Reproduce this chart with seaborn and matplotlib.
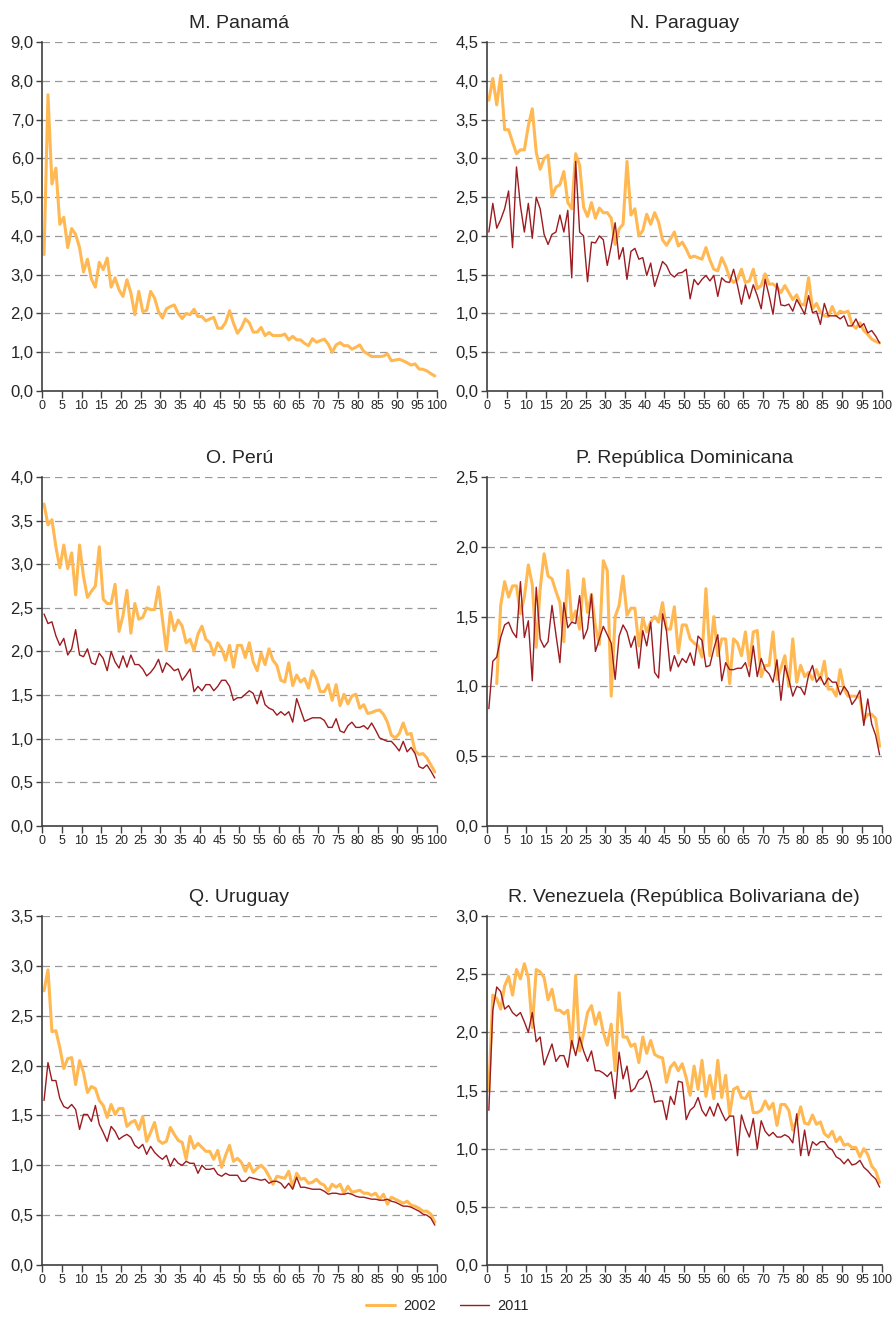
import numpy as np
import pandas as pd
import matplotlib.pyplot as plt
import seaborn as sns
from matplotlib.lines import Line2D
from matplotlib.ticker import FuncFormatter, MultipleLocator

percentiles = np.arange(1, 101)
years = ['2002', '2011']

panama_2002 = [3.52, 7.64, 5.34, 5.75, 4.30, 4.48, 3.70, 4.19, 4.04, 3.70,
               3.07, 3.40, 2.89, 2.68, 3.32, 3.13, 3.43, 2.68, 2.92, 2.61,
               2.44, 2.87, 2.53, 1.97, 2.57, 2.05, 2.08, 2.57, 2.40, 2.05,
               1.88, 2.12, 2.18, 2.22, 2.00, 1.87, 2.00, 1.97, 2.11, 1.92,
               1.92, 1.81, 1.86, 1.90, 1.62, 1.62, 1.77, 2.07, 1.75, 1.49,
               1.63, 1.86, 1.76, 1.52, 1.52, 1.64, 1.43, 1.51, 1.43, 1.43,
               1.43, 1.47, 1.32, 1.41, 1.32, 1.32, 1.23, 1.17, 1.35, 1.26,
               1.30, 1.34, 1.21, 1.00, 1.19, 1.25, 1.17, 1.17, 1.08, 1.13,
               1.19, 1.02, 0.96, 0.89, 0.89, 0.89, 0.90, 0.96, 0.78, 0.80,
               0.82, 0.78, 0.73, 0.67, 0.70, 0.57, 0.56, 0.52, 0.45, 0.39]

paraguay_2002 = [3.75, 4.03, 3.69, 4.07, 3.37, 3.37, 3.21, 3.06, 3.11, 3.11,
                 3.42, 3.64, 3.08, 2.86, 3.00, 3.04, 2.51, 2.63, 2.66, 2.83,
                 2.43, 2.35, 3.06, 2.91, 2.37, 2.25, 2.43, 2.23, 2.36, 2.30,
                 2.30, 2.23, 1.89, 2.09, 2.15, 2.96, 2.27, 2.35, 2.00, 2.07,
                 2.28, 2.15, 2.30, 2.18, 1.95, 1.88, 1.96, 2.05, 1.87, 1.92,
                 1.83, 1.72, 1.74, 1.72, 1.70, 1.85, 1.69, 1.57, 1.55, 1.72,
                 1.61, 1.46, 1.40, 1.44, 1.57, 1.40, 1.42, 1.57, 1.32, 1.36,
                 1.51, 1.38, 1.38, 1.34, 1.27, 1.36, 1.27, 1.18, 1.24, 1.12,
                 1.11, 1.46, 1.06, 1.13, 1.02, 0.97, 0.96, 1.09, 0.97, 1.03,
                 1.01, 1.03, 0.86, 0.81, 0.88, 0.78, 0.73, 0.67, 0.64, 0.62]
paraguay_2011 = [2.05, 2.42, 2.10, 2.21, 2.35, 2.58, 1.85, 2.89, 2.39, 2.05,
                 2.42, 1.97, 2.50, 2.35, 2.02, 1.89, 2.02, 2.05, 2.27, 2.05,
                 2.33, 1.46, 2.96, 2.05, 2.00, 1.41, 1.92, 1.91, 2.00, 1.95,
                 1.62, 1.87, 2.17, 1.70, 1.85, 1.44, 1.80, 1.84, 1.70, 1.72,
                 1.49, 1.65, 1.35, 1.51, 1.67, 1.62, 1.51, 1.47, 1.52, 1.53,
                 1.57, 1.19, 1.44, 1.37, 1.44, 1.49, 1.42, 1.49, 1.22, 1.46,
                 1.41, 1.40, 1.57, 1.36, 1.12, 1.37, 1.19, 1.37, 1.23, 1.06,
                 1.44, 1.23, 0.99, 1.39, 1.11, 1.10, 1.12, 1.03, 1.18, 1.09,
                 0.99, 1.23, 1.01, 1.03, 0.86, 1.13, 0.97, 0.97, 0.97, 0.93,
                 0.97, 0.84, 0.84, 0.93, 0.82, 0.87, 0.75, 0.78, 0.71, 0.62]

peru_2002 = [3.69, 3.45, 3.51, 3.20, 2.96, 3.22, 2.95, 3.13, 2.65, 3.22,
             2.86, 2.62, 2.69, 2.75, 3.20, 2.60, 2.55, 2.55, 2.77, 2.23,
             2.41, 2.70, 2.21, 2.55, 2.37, 2.39, 2.50, 2.48, 2.48, 2.74,
             2.37, 2.01, 2.45, 2.24, 2.36, 2.29, 2.10, 2.14, 2.01, 2.20,
             2.29, 2.14, 2.10, 1.96, 2.10, 2.03, 1.90, 2.07, 1.82, 2.07,
             2.07, 1.93, 2.10, 1.88, 1.78, 1.98, 1.85, 2.03, 1.90, 1.84,
             1.67, 1.65, 1.87, 1.61, 1.73, 1.65, 1.69, 1.58, 1.78, 1.69,
             1.54, 1.54, 1.62, 1.44, 1.62, 1.38, 1.51, 1.40, 1.49, 1.51,
             1.35, 1.39, 1.29, 1.30, 1.32, 1.33, 1.28, 1.19, 1.04, 1.01,
             1.06, 1.18, 1.05, 1.06, 0.86, 0.82, 0.83, 0.78, 0.70, 0.62]
peru_2011 = [2.43, 2.32, 2.34, 2.18, 2.07, 2.15, 1.96, 2.03, 2.25, 1.96,
             1.94, 2.03, 1.87, 1.85, 1.98, 1.92, 1.78, 2.00, 1.88, 1.81,
             1.95, 1.82, 1.96, 1.85, 1.85, 1.80, 1.72, 1.76, 1.82, 1.91,
             1.76, 1.87, 1.83, 1.78, 1.80, 1.67, 1.73, 1.80, 1.54, 1.60,
             1.55, 1.62, 1.62, 1.55, 1.60, 1.67, 1.67, 1.60, 1.44, 1.47,
             1.47, 1.51, 1.55, 1.52, 1.40, 1.55, 1.39, 1.35, 1.33, 1.27,
             1.31, 1.27, 1.31, 1.19, 1.46, 1.33, 1.20, 1.22, 1.24, 1.24,
             1.24, 1.21, 1.13, 1.13, 1.23, 1.09, 1.07, 1.15, 1.19, 1.13,
             1.13, 1.15, 1.11, 1.18, 1.10, 1.01, 0.99, 0.97, 0.97, 0.92,
             0.86, 0.97, 0.85, 0.90, 0.83, 0.68, 0.66, 0.70, 0.63, 0.55]

dominicana_2002 = [np.nan, np.nan, 1.02, 1.58, 1.75, 1.64, 1.72, 1.72, 1.52, 1.64,
                   1.87, 1.73, 1.28, 1.70, 1.95, 1.79, 1.77, 1.68, 1.60, 1.32,
                   1.83, 1.47, 1.54, 1.41, 1.77, 1.53, 1.66, 1.43, 1.30, 1.90,
                   1.83, 0.93, 1.50, 1.58, 1.79, 1.51, 1.56, 1.56, 1.29, 1.49,
                   1.39, 1.46, 1.50, 1.46, 1.60, 1.41, 1.41, 1.57, 1.24, 1.44,
                   1.44, 1.34, 1.31, 1.29, 1.21, 1.70, 1.22, 1.50, 1.22, 1.34,
                   1.34, 1.02, 1.34, 1.31, 1.22, 1.39, 1.15, 1.39, 1.40, 1.07,
                   1.15, 1.15, 1.39, 1.05, 1.13, 1.22, 1.00, 1.34, 1.03, 1.15,
                   1.07, 1.10, 1.05, 1.12, 1.05, 1.18, 0.98, 0.98, 0.93, 1.12,
                   0.98, 0.93, 0.93, 0.93, 0.92, 0.76, 0.80, 0.80, 0.77, 0.57]
dominicana_2011 = [0.84, 1.18, 1.21, 1.35, 1.44, 1.46, 1.39, 1.35, 1.75, 1.35,
                   1.47, 1.04, 1.71, 1.34, 1.28, 1.32, 1.58, 1.37, 1.17, 1.60,
                   1.42, 1.46, 1.45, 1.65, 1.34, 1.41, 1.66, 1.25, 1.34, 1.43,
                   1.37, 1.31, 1.05, 1.36, 1.44, 1.39, 1.28, 1.36, 1.13, 1.40,
                   1.29, 1.46, 1.10, 1.06, 1.52, 1.40, 1.11, 1.22, 1.14, 1.20,
                   1.17, 1.24, 1.15, 1.36, 1.33, 1.14, 1.15, 1.27, 1.37, 1.04,
                   1.17, 1.12, 1.12, 1.13, 1.13, 1.17, 1.07, 1.29, 1.07, 1.20,
                   1.12, 1.09, 1.03, 1.19, 0.90, 1.15, 1.05, 0.93, 1.00, 0.99,
                   0.94, 1.08, 1.15, 1.03, 1.07, 1.01, 1.06, 1.03, 1.03, 0.94,
                   1.00, 0.96, 0.87, 0.91, 0.97, 0.72, 0.91, 0.73, 0.65, 0.51]

uruguay_2002 = [2.75, 2.96, 2.34, 2.35, 2.18, 1.97, 2.07, 2.08, 1.81, 2.05,
                1.93, 1.73, 1.79, 1.77, 1.65, 1.60, 1.48, 1.61, 1.51, 1.57,
                1.57, 1.39, 1.43, 1.45, 1.36, 1.49, 1.24, 1.33, 1.43, 1.25,
                1.22, 1.24, 1.38, 1.31, 1.25, 1.23, 1.06, 1.29, 1.17, 1.22,
                1.18, 1.14, 1.14, 1.06, 1.15, 0.98, 1.10, 1.20, 1.04, 1.07,
                1.03, 0.94, 1.02, 0.93, 0.97, 1.00, 0.96, 0.89, 0.81, 0.89,
                0.88, 0.87, 0.94, 0.78, 0.92, 0.86, 0.87, 0.82, 0.83, 0.86,
                0.82, 0.80, 0.74, 0.81, 0.78, 0.81, 0.72, 0.79, 0.73, 0.74,
                0.75, 0.72, 0.72, 0.70, 0.72, 0.66, 0.71, 0.61, 0.68, 0.66,
                0.64, 0.62, 0.64, 0.60, 0.59, 0.57, 0.54, 0.54, 0.51, 0.43]
uruguay_2011 = [1.65, 2.03, 1.85, 1.85, 1.67, 1.59, 1.57, 1.61, 1.56, 1.36,
                1.51, 1.51, 1.44, 1.60, 1.41, 1.33, 1.24, 1.39, 1.34, 1.26,
                1.29, 1.31, 1.28, 1.20, 1.17, 1.21, 1.11, 1.19, 1.13, 1.09,
                1.06, 1.10, 0.99, 1.07, 1.02, 1.00, 1.04, 1.02, 1.02, 0.92,
                1.00, 0.96, 0.96, 0.97, 0.91, 0.89, 0.92, 0.90, 0.90, 0.90,
                0.84, 0.84, 0.88, 0.87, 0.86, 0.85, 0.86, 0.82, 0.84, 0.84,
                0.82, 0.77, 0.82, 0.76, 0.88, 0.78, 0.78, 0.77, 0.76, 0.76,
                0.76, 0.74, 0.71, 0.72, 0.72, 0.71, 0.71, 0.72, 0.71, 0.69,
                0.68, 0.68, 0.67, 0.66, 0.66, 0.65, 0.65, 0.66, 0.64, 0.63,
                0.61, 0.59, 0.59, 0.58, 0.56, 0.54, 0.51, 0.50, 0.47, 0.40]

venezuela_2002 = [1.50, 2.32, 2.29, 2.20, 2.40, 2.48, 2.32, 2.54, 2.46, 2.59,
                  2.47, 2.04, 2.54, 2.52, 2.47, 2.28, 2.37, 2.19, 2.19, 2.16,
                  2.19, 1.87, 2.49, 1.84, 1.99, 2.17, 2.23, 2.07, 2.17, 2.00,
                  1.89, 2.07, 1.67, 2.34, 1.96, 1.96, 1.88, 1.90, 1.74, 1.96,
                  1.82, 1.93, 1.81, 1.79, 1.78, 1.57, 1.70, 1.74, 1.67, 1.73,
                  1.61, 1.46, 1.71, 1.51, 1.76, 1.45, 1.63, 1.43, 1.76, 1.44,
                  1.63, 1.29, 1.51, 1.53, 1.44, 1.43, 1.49, 1.31, 1.31, 1.33,
                  1.41, 1.34, 1.39, 1.20, 1.38, 1.38, 1.33, 1.16, 1.24, 1.36,
                  1.22, 1.21, 1.29, 1.21, 1.23, 1.13, 1.10, 1.15, 1.06, 1.10,
                  1.03, 1.04, 1.01, 1.01, 0.93, 1.00, 0.95, 0.85, 0.81, 0.71]
venezuela_2011 = [1.33, 2.19, 2.39, 2.35, 2.20, 2.23, 2.17, 2.14, 2.17, 2.09,
                  2.00, 2.17, 1.92, 1.96, 1.72, 1.81, 1.90, 1.75, 1.80, 1.80,
                  1.70, 1.93, 1.80, 1.96, 1.84, 1.75, 1.84, 1.67, 1.67, 1.65,
                  1.62, 1.66, 1.43, 1.83, 1.60, 1.71, 1.49, 1.52, 1.59, 1.61,
                  1.67, 1.56, 1.40, 1.41, 1.41, 1.25, 1.45, 1.38, 1.58, 1.57,
                  1.25, 1.33, 1.36, 1.44, 1.33, 1.28, 1.36, 1.28, 1.39, 1.31,
                  1.24, 1.28, 1.28, 0.94, 1.29, 1.18, 1.10, 1.26, 1.00, 1.24,
                  1.15, 1.11, 1.14, 1.10, 1.10, 1.12, 1.10, 1.05, 1.30, 0.94,
                  1.16, 0.94, 1.06, 1.03, 1.06, 1.06, 1.01, 0.99, 0.93, 0.91,
                  0.87, 0.91, 0.86, 0.87, 0.90, 0.84, 0.81, 0.77, 0.74, 0.67]

titles = ['M. Panamá', 'N. Paraguay', 'O. Perú', 'P. República Dominicana',
          'Q. Uruguay', 'R. Venezuela (República Bolivariana de)']
series = [(panama_2002, None), (paraguay_2002, paraguay_2011), (peru_2002, peru_2011),
          (dominicana_2002, dominicana_2011), (uruguay_2002, uruguay_2011),
          (venezuela_2002, venezuela_2011)]
y_max = [9.0, 4.5, 4.0, 2.5, 3.5, 3.0]
y_step = [1.0, 0.5, 0.5, 0.5, 0.5, 0.5]

colors = {'2002': '#FFB852', '2011': '#9B1B20'}
widths = {'2002': 2.2, '2011': 1.0}

sns.set_style('white')
plt.rcParams['font.family'] = ['Liberation Sans', 'DejaVu Sans']

fig = plt.figure(figsize=(8.95, 13.22), dpi=100)
lefts = [0.047, 0.544]
bottoms = [0.7042, 0.3752, 0.0431]
comma = FuncFormatter(lambda v, pos: f'{v:.1f}'.replace('.', ','))

for i, title in enumerate(titles):
    ax = fig.add_axes([lefts[i % 2], bottoms[i // 2], 0.441, 0.264])
    frames = []
    for year, vals in zip(years, series[i]):
        if vals is None:
            continue
        frames.append(pd.DataFrame({'percentil': percentiles, 'valor': vals, 'año': year}))
    df = pd.concat(frames, ignore_index=True)
    # each percentile is drawn at the centre of its band
    df['pos'] = df['percentil'] - 0.5
    for year in years:
        sub = df[df['año'] == year].dropna()
        if sub.empty:
            continue
        sns.lineplot(data=sub, x='pos', y='valor', color=colors[year],
                     linewidth=widths[year], estimator=None, ax=ax, legend=False)

    ax.set_xlim(0, 100)
    ax.set_ylim(0, y_max[i])
    ax.xaxis.set_major_locator(MultipleLocator(5))
    ax.yaxis.set_major_locator(MultipleLocator(y_step[i]))
    ax.yaxis.set_major_formatter(comma)
    ax.set_xlabel('')
    ax.set_ylabel('')
    ax.yaxis.grid(True, linestyle=(0, (6, 4)), color='#999999', linewidth=0.9)
    ax.set_axisbelow(True)
    for side in ['top', 'right']:
        ax.spines[side].set_visible(False)
    for side in ['left', 'bottom']:
        ax.spines[side].set_color('#404040')
        ax.spines[side].set_linewidth(1.2)
    ax.tick_params(axis='x', direction='out', length=5, width=1, color='#404040',
                   labelsize=9, pad=1.5, bottom=True)
    ax.tick_params(axis='y', direction='out', length=4, width=1, color='#404040',
                   labelsize=12, pad=2, left=True)
    ax.set_title(title, fontsize=14, pad=10)

handles = [Line2D([0], [0], color=colors[y], linewidth=widths[y]) for y in years]
fig.legend(handles, years, loc='center', bbox_to_anchor=(0.5, 0.012), ncol=2,
           frameon=False, fontsize=10.5, handlelength=2.0, handletextpad=0.6,
           columnspacing=1.6)

fig.savefig('out.png', dpi=100)
